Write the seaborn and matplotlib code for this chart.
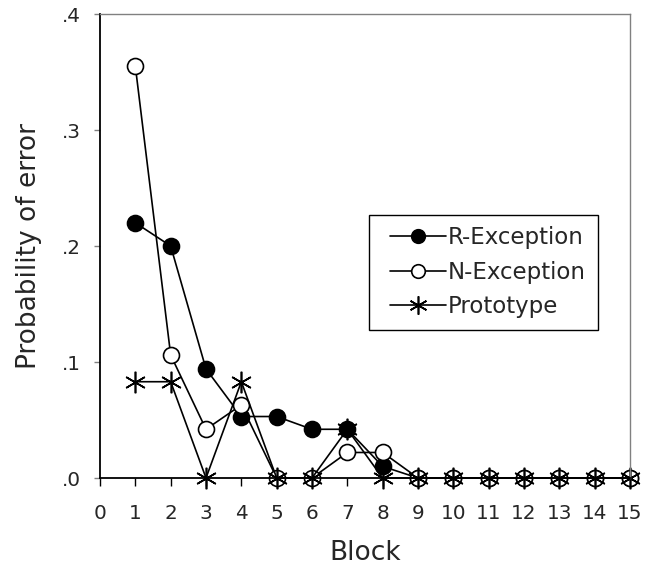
import numpy as np
import pandas as pd
import matplotlib
matplotlib.use("Agg")
import matplotlib.pyplot as plt
from matplotlib.lines import Line2D
from matplotlib.legend_handler import HandlerLine2D
import seaborn as sns

# data
blocks = list(range(1, 16))
r_exception = [0.220, 0.200, 0.094, 0.053, 0.053, 0.042, 0.042, 0.010, 0, 0, 0, 0, 0, 0, 0]
n_exception = [0.355, 0.106, 0.042, 0.063, 0, 0, 0.022, 0.022, 0, 0, 0, 0, 0, 0, 0]
prototype = [0.083, 0.083, 0, 0.083, 0, 0, 0.042, 0, 0, 0, 0, 0, 0, 0, 0]
y_ticks = [0.0, 0.1, 0.2, 0.3, 0.4]
y_ticklabels = [".0", ".1", ".2", ".3", ".4"]

df = pd.DataFrame({"Block": blocks, "R-Exception": r_exception,
                   "N-Exception": n_exception, "Prototype": prototype})

sns.set_style("ticks")
plt.rcParams["font.family"] = ["DejaVu Sans"]

fig = plt.figure(figsize=(6.45, 5.71), dpi=100)
ax = fig.add_axes([100 / 645, 1 - 478 / 571, 530 / 645, 464 / 571])

common = dict(color="black", linewidth=1.2, markeredgewidth=1.2, clip_on=False, ax=ax)
sns.lineplot(data=df, x="Block", y="R-Exception", marker="o", markersize=11.5,
             markerfacecolor="black", markeredgecolor="black", label="R-Exception", **common)
sns.lineplot(data=df, x="Block", y="N-Exception", marker="o", markersize=11.5,
             markerfacecolor="white", markeredgecolor="black", label="N-Exception", **common)
sns.lineplot(data=df, x="Block", y="Prototype", marker=(6, 2, 0), markersize=15.5,
             markeredgecolor="black", label="Prototype", **common)

ax.set_xlim(0, 15)
ax.set_ylim(0, 0.4)
ax.set_xticks(range(0, 16))
ax.set_yticks(y_ticks)
ax.set_yticklabels(y_ticklabels)
ax.tick_params(axis="x", length=6, width=1, color="black", pad=13, labelsize=14.4)
ax.tick_params(axis="y", length=4, width=1, color="#808080", pad=10, labelsize=14.4)
ax.set_xlabel("Block", fontsize=19, labelpad=12)
ax.set_ylabel("Probability of error", fontsize=19, labelpad=14)

for side in ["left", "bottom"]:
    ax.spines[side].set_color("black")
    ax.spines[side].set_linewidth(1.3)
for side in ["top", "right"]:
    ax.spines[side].set_visible(True)
    ax.spines[side].set_color("#808080")
    ax.spines[side].set_linewidth(1.0)

leg = ax.legend(loc="upper left", bbox_to_anchor=(369 / 645, 1 - 215 / 571),
                bbox_transform=fig.transFigure, borderaxespad=0, fontsize=16.5,
                frameon=True, fancybox=False, shadow=False, edgecolor="black",
                framealpha=1, markerscale=0.85, handlelength=2.85, handletextpad=0.1,
                labelspacing=0.5, borderpad=0.5,
                handler_map={Line2D: HandlerLine2D(xpad=0.43)})
leg.get_frame().set_linewidth(1.0)

fig.savefig("out.png", dpi=100)
